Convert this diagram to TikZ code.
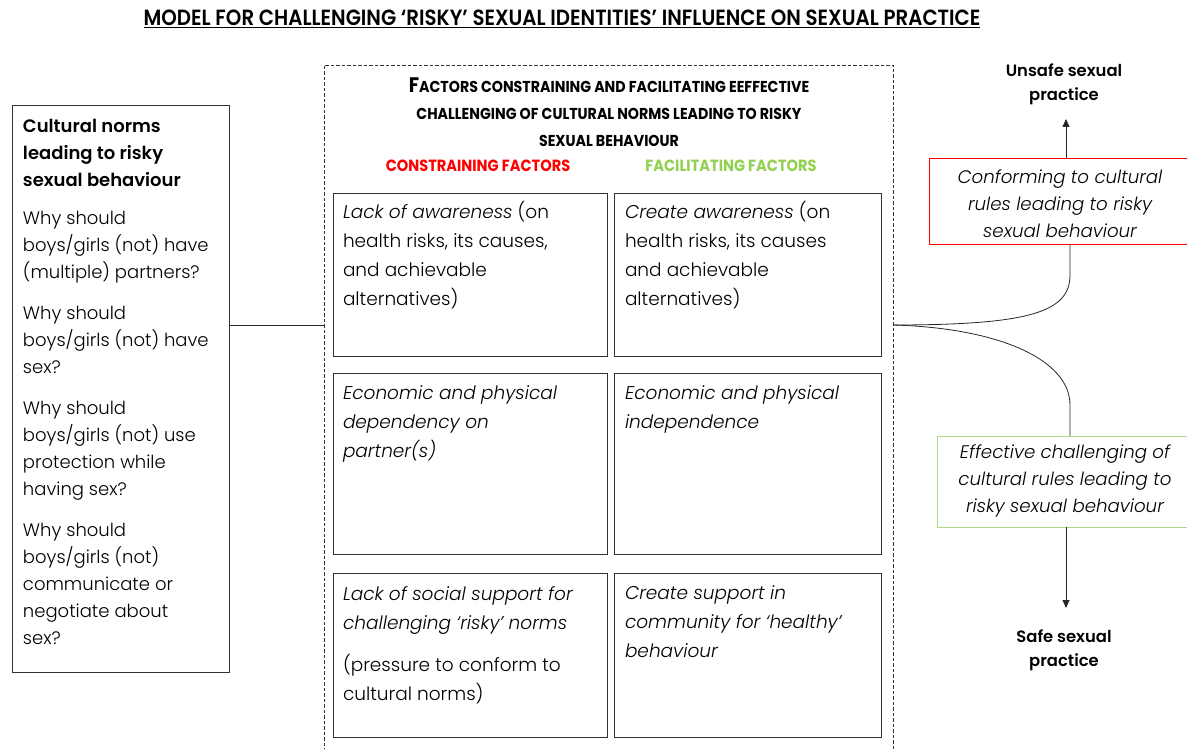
\documentclass[tikz,border=0pt]{standalone}
\usepackage{fontspec}
\setmainfont{Poppins}[UprightFont=* Light,ItalicFont=* Light Italic,BoldFont=* SemiBold,BoldItalicFont=* SemiBold Italic]
\newfontfamily\condfont{Poppins}[FakeStretch=0.9,UprightFont=* SemiBold,BoldFont=* Bold]
\usetikzlibrary{arrows.meta,calc}
\definecolor{conred}{HTML}{FF0000}
\definecolor{facgreen}{HTML}{92D050}
\definecolor{boxgreen}{HTML}{A9D98A}
\begin{document}
\begin{tikzpicture}[x=1pt,y=-1pt,
  every node/.style={inner sep=0pt,outer sep=0pt},
  frame/.style={draw=black!80,line width=0.8pt},
  bodytext/.style={font=\fontsize{18}{27}\selectfont,align=left,anchor=north west},
  celltext/.style={font=\fontsize{18.5}{29}\selectfont,align=left,anchor=north west},
  cellitalic/.style={celltext,font=\fontsize{18.5}{29}\selectfont\itshape},
  outcome/.style={font=\fontsize{16.4}{24}\selectfont\bfseries,align=center},
  ruletext/.style={font=\fontsize{18.2}{27}\selectfont\itshape,align=center},
  subhead/.style={font=\condfont\bfseries\fontsize{16.2}{18}\selectfont},
  flow/.style={line width=0.8pt,draw=black!85},
  tip/.style={-{Triangle[length=8pt,width=7pt]}}]
\useasboundingbox (0,0) rectangle (1187,749);

% title
\node[font=\condfont\fontsize{22}{24}\selectfont] (title) at (562,19)
  {\underline{MODEL FOR CHALLENGING ‘RISKY’ SEXUAL IDENTITIES’ INFLUENCE ON SEXUAL PRACTICE}};

% left box: cultural norms
\node[frame,anchor=north west,minimum width=217pt,minimum height=567pt] (norms) at (12,105) {};
\node[font=\fontsize{18}{27}\selectfont\bfseries,align=left,anchor=north west] (normshead) at (23,119)
  {Cultural norms\\leading to risky\\sexual behaviour};
\node[bodytext] (q1) at (23,211) {Why should\\boys/girls (not) have\\(multiple) partners?};
\node[bodytext] (q2) at (23,306) {Why should\\boys/girls (not) have\\sex?};
\node[bodytext] (q3) at (23,401) {Why should\\boys/girls (not) use\\protection while\\having sex?};
\node[bodytext] (q4) at (23,523) {Why should\\boys/girls (not)\\communicate or\\negotiate about\\sex?};

% dashed frame of factors
\node[draw=black!80,dash pattern=on 3.5pt off 2pt,line width=0.7pt,anchor=north west,minimum width=569pt,minimum height=720pt] (factors) at (324,65) {};
\node[align=center,font=\condfont\bfseries\fontsize{15.8}{27}\selectfont] (fhead) at (609,112)
  {{\fontsize{21}{27}\selectfont F}ACTORS CONSTRAINING AND FACILITATING EEFFECTIVE\\
   CHALLENGING OF CULTURAL NORMS LEADING TO RISKY\\ SEXUAL BEHAVIOUR};
\node[subhead,text=conred] (conhead) at (478,166) {CONSTRAINING FACTORS};
\node[subhead,text=facgreen] (fachead) at (731,166) {FACILITATING FACTORS};

% factor cells
\node[frame,anchor=north west,minimum width=274pt,minimum height=163pt] (c1) at (333,193) {};
\node[frame,anchor=north west,minimum width=267pt,minimum height=163pt] (f1) at (614,193) {};
\node[frame,anchor=north west,minimum width=274pt,minimum height=181pt] (c2) at (333,373) {};
\node[frame,anchor=north west,minimum width=267pt,minimum height=181pt] (f2) at (614,373) {};
\node[frame,anchor=north west,minimum width=274pt,minimum height=164pt] (c3) at (333,573) {};
\node[frame,anchor=north west,minimum width=267pt,minimum height=164pt] (f3) at (614,573) {};

\node[celltext] (c1t) at (343,201) {\textit{Lack of awareness} (on\\health risks, its causes,\\and achievable\\alternatives)};
\node[celltext] (f1t) at (625,201) {\textit{Create awareness} (on\\health risks, its causes\\and achievable\\alternatives)};
\node[cellitalic] (c2t) at (343,386) {Economic and physical\\dependency on\\partner(s)};
\node[cellitalic] (f2t) at (625,386) {Economic and physical\\independence};
\node[cellitalic] (c3t) at (343,586) {Lack of social support for\\challenging ‘risky’ norms};
\node[celltext] (c3u) at (343,654) {(pressure to conform to\\cultural norms)};
\node[cellitalic] (f3t) at (625,586) {Create support in\\community for ‘healthy’\\behaviour};

% outcome boxes
\node[draw=conred,line width=0.8pt,anchor=north west,minimum width=266pt,minimum height=86pt] (conform) at (929,158) {};
\node[ruletext] (conformt) at (1060,204)
  {Conforming to cultural\\rules leading to risky\\sexual behaviour};
\node[draw=boxgreen,line width=0.8pt,anchor=north west,minimum width=258pt,minimum height=91pt] (challenge) at (937,436) {};
\node[ruletext] (challenget) at (1065,481)
  {Effective challenging of\\cultural rules leading to\\risky sexual behaviour};

\node[outcome] (unsafe) at (1064,84) {Unsafe sexual\\practice};
\node[outcome] (safe) at (1064,650) {Safe sexual\\practice};

% connectors
\coordinate (mid) at (0,325);
\coordinate (upbend) at (1070,275);
\coordinate (downbend) at (1070,405);
\coordinate (uptip) at (1066,119);
\coordinate (downtip) at (1066,608);
\draw[flow] (norms.east |- mid) -- (factors.west |- mid);
\draw[flow] (factors.east |- mid) .. controls (1030,325) and (1070,312) .. (upbend) -- (upbend |- conform.south);
\draw[flow] (factors.east |- mid) .. controls (1000,328) and (1070,360) .. (downbend) -- (downbend |- challenge.north);
\draw[flow,tip] (conform.north -| uptip) -- (uptip);
\draw[flow,tip] (challenge.south -| downtip) -- (downtip);
\end{tikzpicture}
\end{document}
